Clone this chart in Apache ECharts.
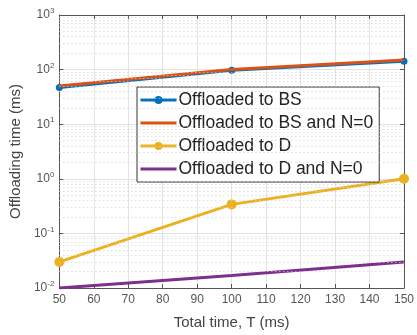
<!DOCTYPE html>
<html>
<head>
<meta charset="utf-8">
<script src="https://cdn.jsdelivr.net/npm/echarts@6/dist/echarts.min.js"></script>
<style>
  html, body { margin: 0; padding: 0; background: #fff; }
  #main { width: 417px; height: 335px; }
</style>
</head>
<body>
<div id="main"></div>
<script>
// data
var totalTime = [50, 100, 150];
var bsTime = [47, 97, 142];
var bsTimeN0 = [50, 100, 150];
var dTime = [0.03, 0.34, 1.0];
var dTimeN0 = [0.01, 0.017, 0.03];
var decades = [-2, -1, 0, 1, 2, 3];

// minor grid values 2..9 per decade
var minorVals = [];
decades.slice(0, -1).forEach(function (d) {
    for (var k = 2; k <= 9; k++) {
        minorVals.push(k * Math.pow(10, d));
    }
});

var cBlue = '#0072BD', cRed = '#D95319', cYellow = '#EDB120', cPurple = '#7E2F8E';
var chart = echarts.init(document.getElementById('main'));

function pairs(ys) {
    return totalTime.map(function (x, i) { return [x, ys[i]]; });
}

var option = {
    animation: false,
    textStyle: { fontFamily: 'Liberation Sans, Arial, sans-serif' },
    grid: { left: 52, right: 7, top: 15, bottom: 43 },
    legend: {
        left: 137, top: 87,
        orient: 'vertical',
        backgroundColor: '#fff',
        borderColor: '#333',
        borderWidth: 1,
        borderRadius: 0,
        padding: [4, 6, 4, 2],
        itemGap: 5,
        itemWidth: 36,
        itemHeight: 10,
        lineStyle: { width: 3 },
        textStyle: { fontSize: 17.5, color: '#222', padding: [0, 0, 0, -3] },
        data: [
            { name: 'Offloaded to BS' },
            { name: 'Offloaded to BS and N=0', itemStyle: { opacity: 0 } },
            { name: 'Offloaded to D' },
            { name: 'Offloaded to D and N=0', itemStyle: { opacity: 0 } }
        ]
    },
    xAxis: [{
        type: 'value', min: 50, max: 150, interval: 10,
        name: 'Total time, T (ms)', nameLocation: 'middle', nameGap: 27,
        nameTextStyle: { fontSize: 15, color: '#444' },
        axisLine: { lineStyle: { color: '#555', width: 1 } },
        axisTick: { inside: true, length: 4, lineStyle: { color: '#555' } },
        axisLabel: { fontSize: 12, color: '#555', margin: 6 },
        splitLine: { show: true, lineStyle: { color: '#e3e3e3', width: 1 } }
    }, {
        type: 'value', min: 50, max: 150, interval: 10, position: 'top',
        axisLine: { show: true, lineStyle: { color: '#555' } },
        axisTick: { inside: true, length: 4, lineStyle: { color: '#555' } },
        axisLabel: { show: false }, splitLine: { show: false }
    }],
    yAxis: [{
        type: 'log', logBase: 10, min: 0.01, max: 1000,
        name: 'Offloading time (ms)', nameLocation: 'middle', nameGap: 33,
        nameTextStyle: { fontSize: 15, color: '#444' },
        axisLine: { show: true, lineStyle: { color: '#555' } },
        axisTick: { inside: true, length: 4, lineStyle: { color: '#555' } },
        axisLabel: {
            margin: 5,
            formatter: function (v) {
                return '10{sup|' + Math.round(Math.log10(v)) + '}';
            },
            rich: { sup: { fontSize: 8, verticalAlign: 'bottom', padding: [0, 0, 8, 0], color: '#555' } },
            fontSize: 12, color: '#555'
        },
        splitLine: { show: true, lineStyle: { color: '#e3e3e3', width: 1 } }
    }, {
        type: 'log', logBase: 10, min: 0.01, max: 1000, position: 'right',
        axisLine: { show: true, lineStyle: { color: '#555' } },
        axisTick: { inside: true, length: 4, lineStyle: { color: '#555' } },
        axisLabel: { show: false }, splitLine: { show: false }
    }],
    series: [{
        name: 'minor', type: 'line', data: [], silent: true,
        itemStyle: { color: '#ccc' },
        markLine: {
            silent: true, symbol: 'none', label: { show: false },
            lineStyle: { color: '#cfcfcf', type: [1, 3], width: 1 },
            data: minorVals.map(function (v) { return { yAxis: v }; })
        }
    }, {
        name: 'Offloaded to BS', type: 'line', data: pairs(bsTime),
        lineStyle: { width: 3, color: cBlue }, itemStyle: { color: cBlue },
        symbol: 'circle', symbolSize: 7, z: 3
    }, {
        name: 'Offloaded to BS and N=0', type: 'line', data: pairs(bsTimeN0),
        lineStyle: { width: 3, color: cRed }, itemStyle: { color: cRed },
        symbol: 'none', z: 4
    }, {
        name: 'Offloaded to D', type: 'line', data: pairs(dTime),
        lineStyle: { width: 3, color: cYellow }, symbol: 'circle', symbolSize: 10,
        itemStyle: { color: cYellow }
    }, {
        name: 'Offloaded to D and N=0', type: 'line', data: pairs(dTimeN0),
        lineStyle: { width: 3, color: cPurple }, itemStyle: { color: cPurple },
        symbol: 'none'
    }]
};
chart.setOption(option);
</script>
</body>
</html>
